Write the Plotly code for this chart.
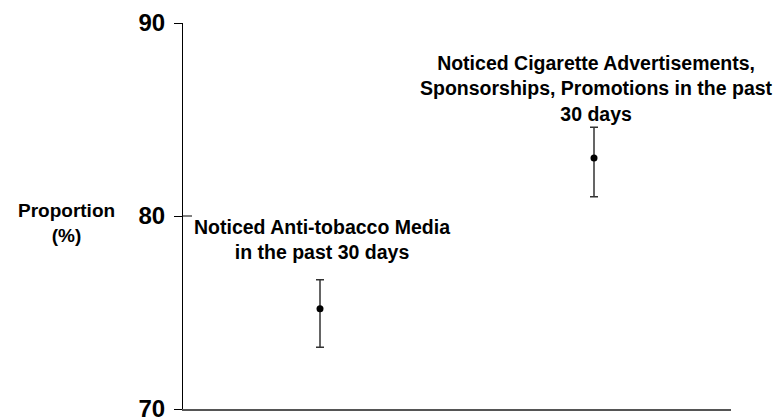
import plotly.graph_objects as go

# Survey estimates with 95% confidence limits
measures = ["Noticed Anti-tobacco Media<br>in the past 30 days",
            "Noticed Cigarette Advertisements,<br>Sponsorships, Promotions in the past<br>30 days"]
x_pos = [1, 3]
estimate = [75.2, 83.0]
lower = [73.2, 81.0]
upper = [76.7, 84.6]
label_y = [78.8, 86.6]
y_ticks = [70, 80, 90]

err_plus = [u - e for u, e in zip(upper, estimate)]
err_minus = [e - l for e, l in zip(estimate, lower)]

FONT = "Liberation Sans, Arial, sans-serif"

fig = go.Figure()
fig.add_trace(go.Scatter(
    x=x_pos, y=estimate, mode="markers",
    marker=dict(color="black", size=7),
    error_y=dict(type="data", symmetric=False, array=err_plus, arrayminus=err_minus,
                 color="#333333", thickness=1.5, width=4),
    showlegend=False, hoverinfo="skip",
))

for xp, ly, txt in zip(x_pos, label_y, measures):
    fig.add_annotation(x=xp, y=ly, xref="x", yref="y", text="<b>" + txt + "</b>",
                       showarrow=False, xanchor="center", yanchor="middle", xshift=2,
                       font=dict(family=FONT, size=19.5, color="black"))

fig.add_annotation(x=-0.213, y=0.482, xref="paper", yref="paper",
                   text="<b>Proportion<br>(%)</b>", showarrow=False,
                   xanchor="center", yanchor="middle",
                   font=dict(family=FONT, size=19, color="black"))

# mid tick crosses the axis line
fig.add_shape(type="line", xref="paper", yref="y", x0=0, x1=9 / 548, y0=80, y1=80,
              line=dict(color="black", width=1))

fig.update_layout(
    width=776, height=418,
    margin=dict(l=183, r=45, t=23, b=9, autoexpand=False),
    plot_bgcolor="white", paper_bgcolor="white",
    xaxis=dict(range=[0, 4], showgrid=False, zeroline=False, showticklabels=False,
               ticks="", showline=True, linecolor="#555555", linewidth=2,
               automargin=False),
    yaxis=dict(range=[70, 90], tickvals=y_ticks, ticktext=[f"<b>{v}</b>" for v in y_ticks],
               showgrid=False, zeroline=False, showline=True, linecolor="black",
               linewidth=1, ticks="outside", ticklen=8, tickcolor="black",
               tickfont=dict(family=FONT, size=24, color="black"),
               ticklabelstandoff=4, ticklabeloverflow="allow", automargin=False),
)

fig.write_html("out.html")
